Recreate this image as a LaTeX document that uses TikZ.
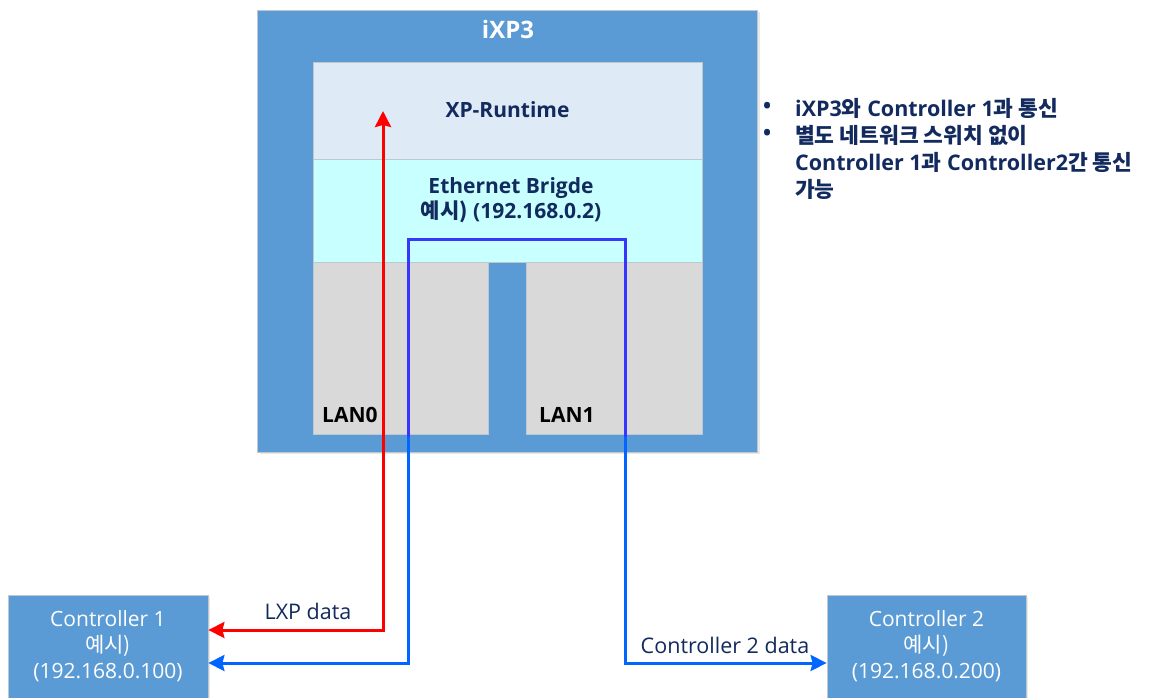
\documentclass[tikz,border=0pt]{standalone}
\usepackage{fontspec}
\setmainfont{Open Sans}
\newfontfamily\kr{Noto Sans CJK KR}
\usetikzlibrary{arrows.meta,shadows}
\definecolor{boxblue}{HTML}{5B9BD5}
\definecolor{rtfill}{HTML}{DEEAF6}
\definecolor{ebfill}{HTML}{C8FFFF}
\definecolor{lanfill}{HTML}{D9D9D9}
\definecolor{navy}{HTML}{132A5E}
\definecolor{edgegray}{HTML}{BFC7D0}
\definecolor{lxpred}{HTML}{FF0000}
\definecolor{lineblue}{HTML}{0066FF}
\definecolor{innerblue}{HTML}{3636FF}
\begin{document}
\begin{tikzpicture}[x=1pt,y=-1pt,
  >={Stealth[length=16pt,width=16pt,inset=2pt]},
  box/.style={rectangle, draw=edgegray, line width=0.8pt, inner sep=0pt},
  shad/.style={drop shadow={opacity=0.18, shadow xshift=2pt, shadow yshift=-2pt}},
  boldtxt/.style={font=\bfseries\fontsize{21}{25}\selectfont, text=navy, inner sep=0pt},
  ctrltxt/.style={font=\fontsize{21}{26}\selectfont, text=white, align=center, inner sep=0pt},
  lbl/.style={font=\fontsize{21.5}{24}\selectfont, text=navy, inner sep=0pt},
  lantxt/.style={font=\bfseries\fontsize{21}{22}\selectfont, text=black, inner sep=0pt, anchor=west},
  bul/.style={font=\bfseries\fontsize{21.5}{24}\selectfont, text=navy, inner sep=0pt, anchor=west},
  redline/.style={draw=lxpred, line width=3pt, <->},
  blueline/.style={draw=lineblue, line width=3pt, <->},
  inline/.style={draw=innerblue, line width=3pt}
]
\useasboundingbox (0,0) rectangle (1150,698);
\fill[white] (0,0) rectangle (1150,698);

% outer iXP3 box
\node[box, shad, fill=boxblue, minimum width=500pt, minimum height=442pt] (ixp) at (507.5,231) {};
\node[font=\bfseries\fontsize{24}{26}\selectfont, text=white, inner sep=0pt] (ixptitle) at (508,30) {iXP3};

% inner layers
\node[box, fill=rtfill, minimum width=389pt, minimum height=97pt] (rt) at (507.5,110.5) {};
\node[boldtxt] (rttxt) at (507.5,110) {XP-Runtime};
\node[box, fill=ebfill, minimum width=389pt, minimum height=103pt] (eb) at (507.5,210.5) {};
\node[boldtxt, align=center] (ebtxt) at (511,200) {Ethernet Brigde\\{\kr 예시)} (192.168.0.2)};
\node[box, fill=lanfill, minimum width=175pt, minimum height=172pt] (lan0) at (400.5,348) {};
\node[box, fill=lanfill, minimum width=176pt, minimum height=172pt] (lan1) at (614,348) {};
\node[lantxt] (lan0txt) at (322,415) {LAN0};
\node[lantxt] (lan1txt) at (539,415) {LAN1};

% controllers
\node[box, shad, fill=boxblue, minimum width=200pt, minimum height=104pt] (c1) at (108,647) {};
\node[ctrltxt] (c1txt) at (108,646) {Controller 1\\{\kr 예시)}\\(192.168.0.100)};
\node[box, shad, fill=boxblue, minimum width=199pt, minimum height=104pt] (c2) at (926.5,647) {};
\node[ctrltxt] (c2txt) at (926.5,646) {Controller 2\\{\kr 예시)}\\(192.168.0.200)};

% connector anchor points
\coordinate (rtop) at (383,111);
\coordinate (rcorner) at (383,630);
\coordinate (c1r) at (c1.east |- rcorner);
\coordinate (b1) at (408,663);
\coordinate (b2) at (408,239);
\coordinate (b3) at (625,239);
\coordinate (b4) at (625,663);
\coordinate (c1b) at (c1.east |- b1);
\coordinate (c2b) at (c2.west |- b4);
\coordinate (bin1) at (408,437);
\coordinate (bin2) at (625,437);

% connectors
\draw[redline] (c1r) -- (rcorner) -- (rtop);
\draw[blueline] (c1b) -- (b1) -- (b2) -- (b3) -- (b4) -- (c2b);
\draw[inline] (bin1) -- (b2) -- (b3) -- (bin2);

% connector labels
\node[lbl] (lxp) at (308,611) {LXP data};
\node[lbl] (c2d) at (725,645) {Controller 2 data};

% bullet notes
\node[bul] (d1) at (763,108) {\textbullet};
\node[bul] (t1) at (795,108) {iXP3{\kr 와} Controller 1{\kr 과 통신}};
\node[bul] (d2) at (763,135) {\textbullet};
\node[bul] (t2) at (795,135) {\kr 별도 네트워크 스위치 없이};
\node[bul] (t3) at (795,162) {Controller 1{\kr 과} Controller2{\kr 간 통신}};
\node[bul] (t4) at (795,189) {\kr 가능};
\end{tikzpicture}
\end{document}
